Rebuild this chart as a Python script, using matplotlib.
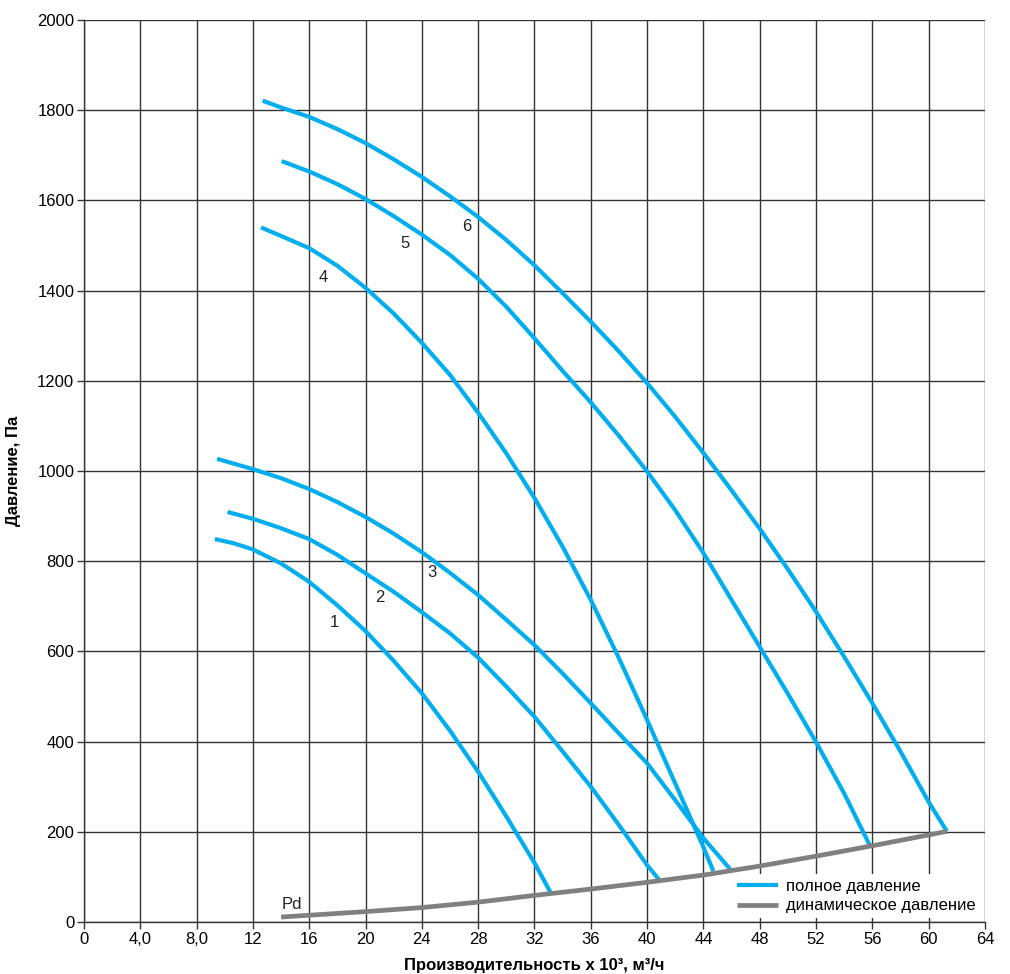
import numpy as np
import matplotlib
matplotlib.use("Agg")
import matplotlib.pyplot as plt

plt.rcParams['font.family'] = ['Liberation Sans', 'DejaVu Sans']

# кривые полного давления (x - производительность, тыс. м3/ч; y - Па)
x1 = [9.3, 10.6, 12, 14, 16, 18, 20, 22, 24, 26, 28, 30, 32, 33.2]
y1 = [849, 840, 826, 795, 754, 702, 645, 579, 507, 424, 333, 234, 131, 62]

x2 = [10.2, 12, 14, 16, 18, 20, 22, 24, 26, 28, 30, 32, 34, 36, 38, 40, 40.9]
y2 = [909, 894, 873, 849, 814, 773, 732, 687, 640, 586, 522, 455, 378, 300, 215, 126, 92]

x3 = [9.45, 12, 14, 16, 18, 20, 22, 24, 26, 28, 30, 32, 34, 36, 38, 40, 42, 44, 45.9]
y3 = [1027, 1004, 984, 960, 931, 898, 861, 820, 774, 725, 670, 614, 551, 485, 418, 352, 270, 186, 117]

x4 = [12.57, 14, 16, 18, 20, 22, 24, 26, 28, 30, 32, 34, 36, 38, 40, 42, 44, 44.7]
y4 = [1540, 1521, 1494, 1455, 1406, 1349, 1284, 1213, 1129, 1039, 940, 832, 714, 585, 448, 307, 166, 113]

x5 = [14.04, 16, 18, 20, 22, 24, 26, 28, 30, 32, 34, 36, 38, 40, 42, 44, 46, 48, 50, 52, 54, 55.8]
y5 = [1687, 1664, 1636, 1603, 1565, 1524, 1479, 1426, 1364, 1294, 1222, 1152, 1078, 999, 913, 818, 714, 610, 506, 399, 285, 171]

x6 = [12.69, 14, 16, 18, 20, 22, 24, 26, 28, 30, 32, 34, 36, 38, 40, 42, 44, 46, 48, 50, 52, 54, 56, 58, 60, 61.3]
y6 = [1821, 1806, 1785, 1758, 1727, 1691, 1652, 1609, 1563, 1512, 1456, 1394, 1331, 1265, 1195, 1120, 1040, 957, 872, 782, 688, 588, 485, 378, 266, 201]

# динамическое давление
x_pd = [14, 16, 20, 24, 28, 32, 36, 40, 44, 48, 52, 56, 60, 61.3]
y_pd = [11, 15, 23, 32, 44, 59, 73, 88, 104, 124, 146, 169, 193, 201]

curves = [(x1, y1), (x2, y2), (x3, y3), (x4, y4), (x5, y5), (x6, y6)]
nombres = ["1", "2", "3", "4", "5", "6"]
pos_nombres = [(17.75, 665), (21.0, 720), (24.7, 774), (17.0, 1430), (22.8, 1505), (27.2, 1541)]

x_ticks = list(range(0, 65, 4))
x_tick_labels = ["0", "4,0", "8,0"] + [str(v) for v in x_ticks[3:]]
y_ticks = list(range(0, 2001, 200))

azul = "#00aeef"
gris = "#808080"
rejilla = "#333333"

fig = plt.figure(figsize=(10.10, 9.74), dpi=100)
ax = fig.add_axes([0.0832, 0.0534, 0.8920, 0.9261])

for i, (xs, ys) in enumerate(curves):
    ax.plot(xs, ys, color=azul, lw=3.0, solid_capstyle='butt', solid_joinstyle='round',
            zorder=3, label="полное давление" if i == 0 else None)
ax.plot(x_pd, y_pd, color=gris, lw=3.4, solid_capstyle='butt', solid_joinstyle='round',
        zorder=4, label="динамическое давление")

for txt, (tx, ty) in zip(nombres, pos_nombres):
    ax.text(tx, ty, txt, fontsize=12, color="#222222", ha='center', va='center', zorder=5)
ax.text(14.8, 38, "Pd", fontsize=12, color="#222222", ha='center', va='center', zorder=5)

ax.set_xlim(0, 64)
ax.set_ylim(0, 2000)
ax.set_xticks(x_ticks)
ax.set_xticklabels(x_tick_labels)
ax.set_yticks(y_ticks)
ax.grid(True, color=rejilla, lw=1.0)
ax.set_axisbelow(True)
for lado in ['top', 'right']:
    ax.spines[lado].set_visible(False)
for lado in ['left', 'bottom']:
    ax.spines[lado].set_color(rejilla)
    ax.spines[lado].set_linewidth(1.0)
ax.tick_params(direction='out', length=5, width=1, color=rejilla, labelsize=12, pad=2)

ax.set_xlabel("Производительность х 10³, м³/ч", fontsize=12, fontweight='bold', labelpad=8)
ax.set_ylabel("Давление, Па", fontsize=12, fontweight='bold', labelpad=12)

leg = ax.legend(loc='lower right', bbox_to_anchor=(0.9956, 0.004), fontsize=12,
                handlelength=2.45, handletextpad=0.5, borderaxespad=0.0,
                frameon=True, fancybox=False, framealpha=1.0,
                edgecolor='none', facecolor='white', borderpad=0.3, labelspacing=0.28)
leg.set_zorder(2.5)

fig.savefig("out.png", dpi=100)
